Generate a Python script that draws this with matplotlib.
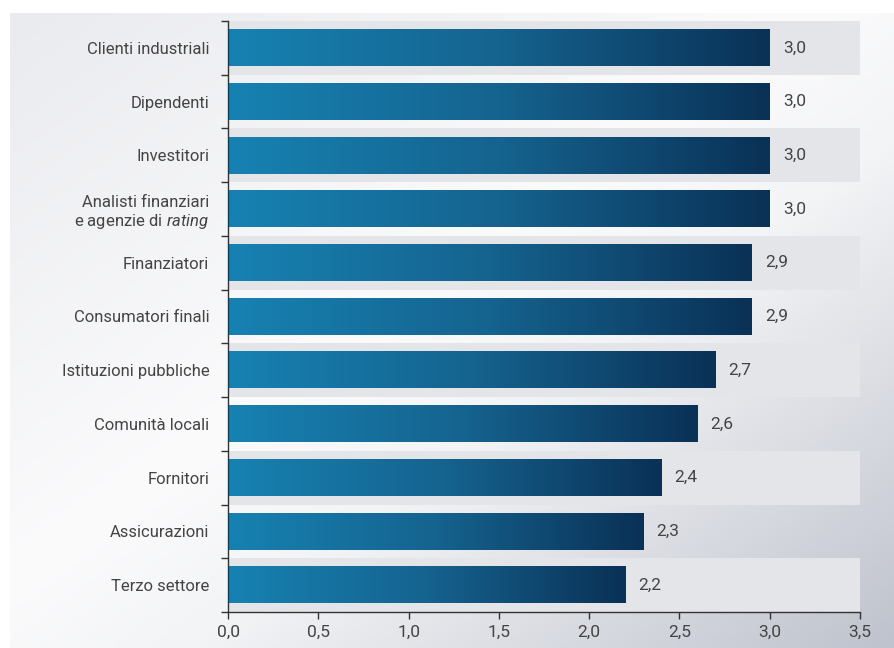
import numpy as np
import matplotlib
matplotlib.use('Agg')
import matplotlib.pyplot as plt
from matplotlib.colors import LinearSegmentedColormap

plt.rcParams['font.family'] = ['Roboto', 'DejaVu Sans']
plt.rcParams['mathtext.fontset'] = 'custom'
plt.rcParams['mathtext.rm'] = 'Roboto'
plt.rcParams['mathtext.it'] = 'Roboto:italic'

# dati
categorie = ['Clienti industriali', 'Dipendenti', 'Investitori',
             'Analisti finanziari\ne agenzie di $\\it{rating}$',
             'Finanziatori', 'Consumatori finali', 'Istituzioni pubbliche',
             'Comunità locali', 'Fornitori', 'Assicurazioni', 'Terzo settore']
valori = [3.0, 3.0, 3.0, 3.0, 2.9, 2.9, 2.7, 2.6, 2.4, 2.3, 2.2]
xticks = [0.0, 0.5, 1.0, 1.5, 2.0, 2.5, 3.0, 3.5]
xtick_labels = ['0,0', '0,5', '1,0', '1,5', '2,0', '2,5', '3,0', '3,5']

testo = '#444444'
fig = plt.figure(figsize=(8.94, 6.48), dpi=100)
fig.patch.set_facecolor('white')

# sfondo sfumato
bg = fig.add_axes([10/894, 0, 884/894, 635/648], zorder=0)
nx, ny = 300, 220
xx, yy = np.meshgrid(np.linspace(0, 1, nx), np.linspace(0, 1, ny))
t = (xx + yy) / 2
bg_cmap = LinearSegmentedColormap.from_list(
    'bg', [(0, '#eaebef'), (0.45, '#fbfbfc'), (0.6, '#f3f4f6'), (1, '#bfc3cd')])
bg.imshow(t, cmap=bg_cmap, aspect='auto', extent=[0, 1, 1, 0], vmin=0, vmax=1)
bg.axis('off')

ax = fig.add_axes([228/894, 36/648, 632/894, 591/648], zorder=1)
ax.patch.set_alpha(0)

n = len(categorie)
ypos = np.arange(n)
ax.set_xlim(0, 3.5)
ax.set_ylim(n - 0.5, -0.5)

# fasce alternate
for i in range(0, n, 2):
    ax.axhspan(i - 0.5, i + 0.5, color='#e4e5e9', zorder=1, lw=0)

bar_cmap = LinearSegmentedColormap.from_list('bar', ['#1782b2', '#15638f', '#0a3156'])
grad = np.linspace(0, 1, 256).reshape(1, -1)
h = 0.68
for y, v in zip(ypos, valori):
    ax.imshow(grad, cmap=bar_cmap, aspect='auto',
              extent=[0, v, y + h/2, y - h/2], zorder=2)
    ax.annotate(f'{v:.1f}'.replace('.', ','), (v, y), xytext=(9.5, 0),
                textcoords='offset points', va='center', ha='left',
                fontsize=12.5, color=testo)
ax.set_xlim(0, 3.5)
ax.set_ylim(n - 0.5, -0.5)

ax.set_yticks(np.arange(-0.5, n, 1))
ax.set_yticklabels([])
ax.set_yticks(ypos, minor=True)
ax.set_yticklabels(categorie, minor=True, fontsize=12, color=testo)
ax.tick_params(axis='y', which='minor', length=0, pad=13.5)
ax.tick_params(axis='y', which='major', length=5, width=1, color='#333333')

ax.set_xticks(xticks)
ax.set_xticklabels(xtick_labels, fontsize=12.5, color=testo)
ax.tick_params(axis='x', length=5, width=1, color='#333333', pad=4)

for s in ['top', 'right']:
    ax.spines[s].set_visible(False)
for s in ['left', 'bottom']:
    ax.spines[s].set_color('#333333')
    ax.spines[s].set_linewidth(1)
    ax.spines[s].set_zorder(5)

fig.savefig('out.png', dpi=100)
